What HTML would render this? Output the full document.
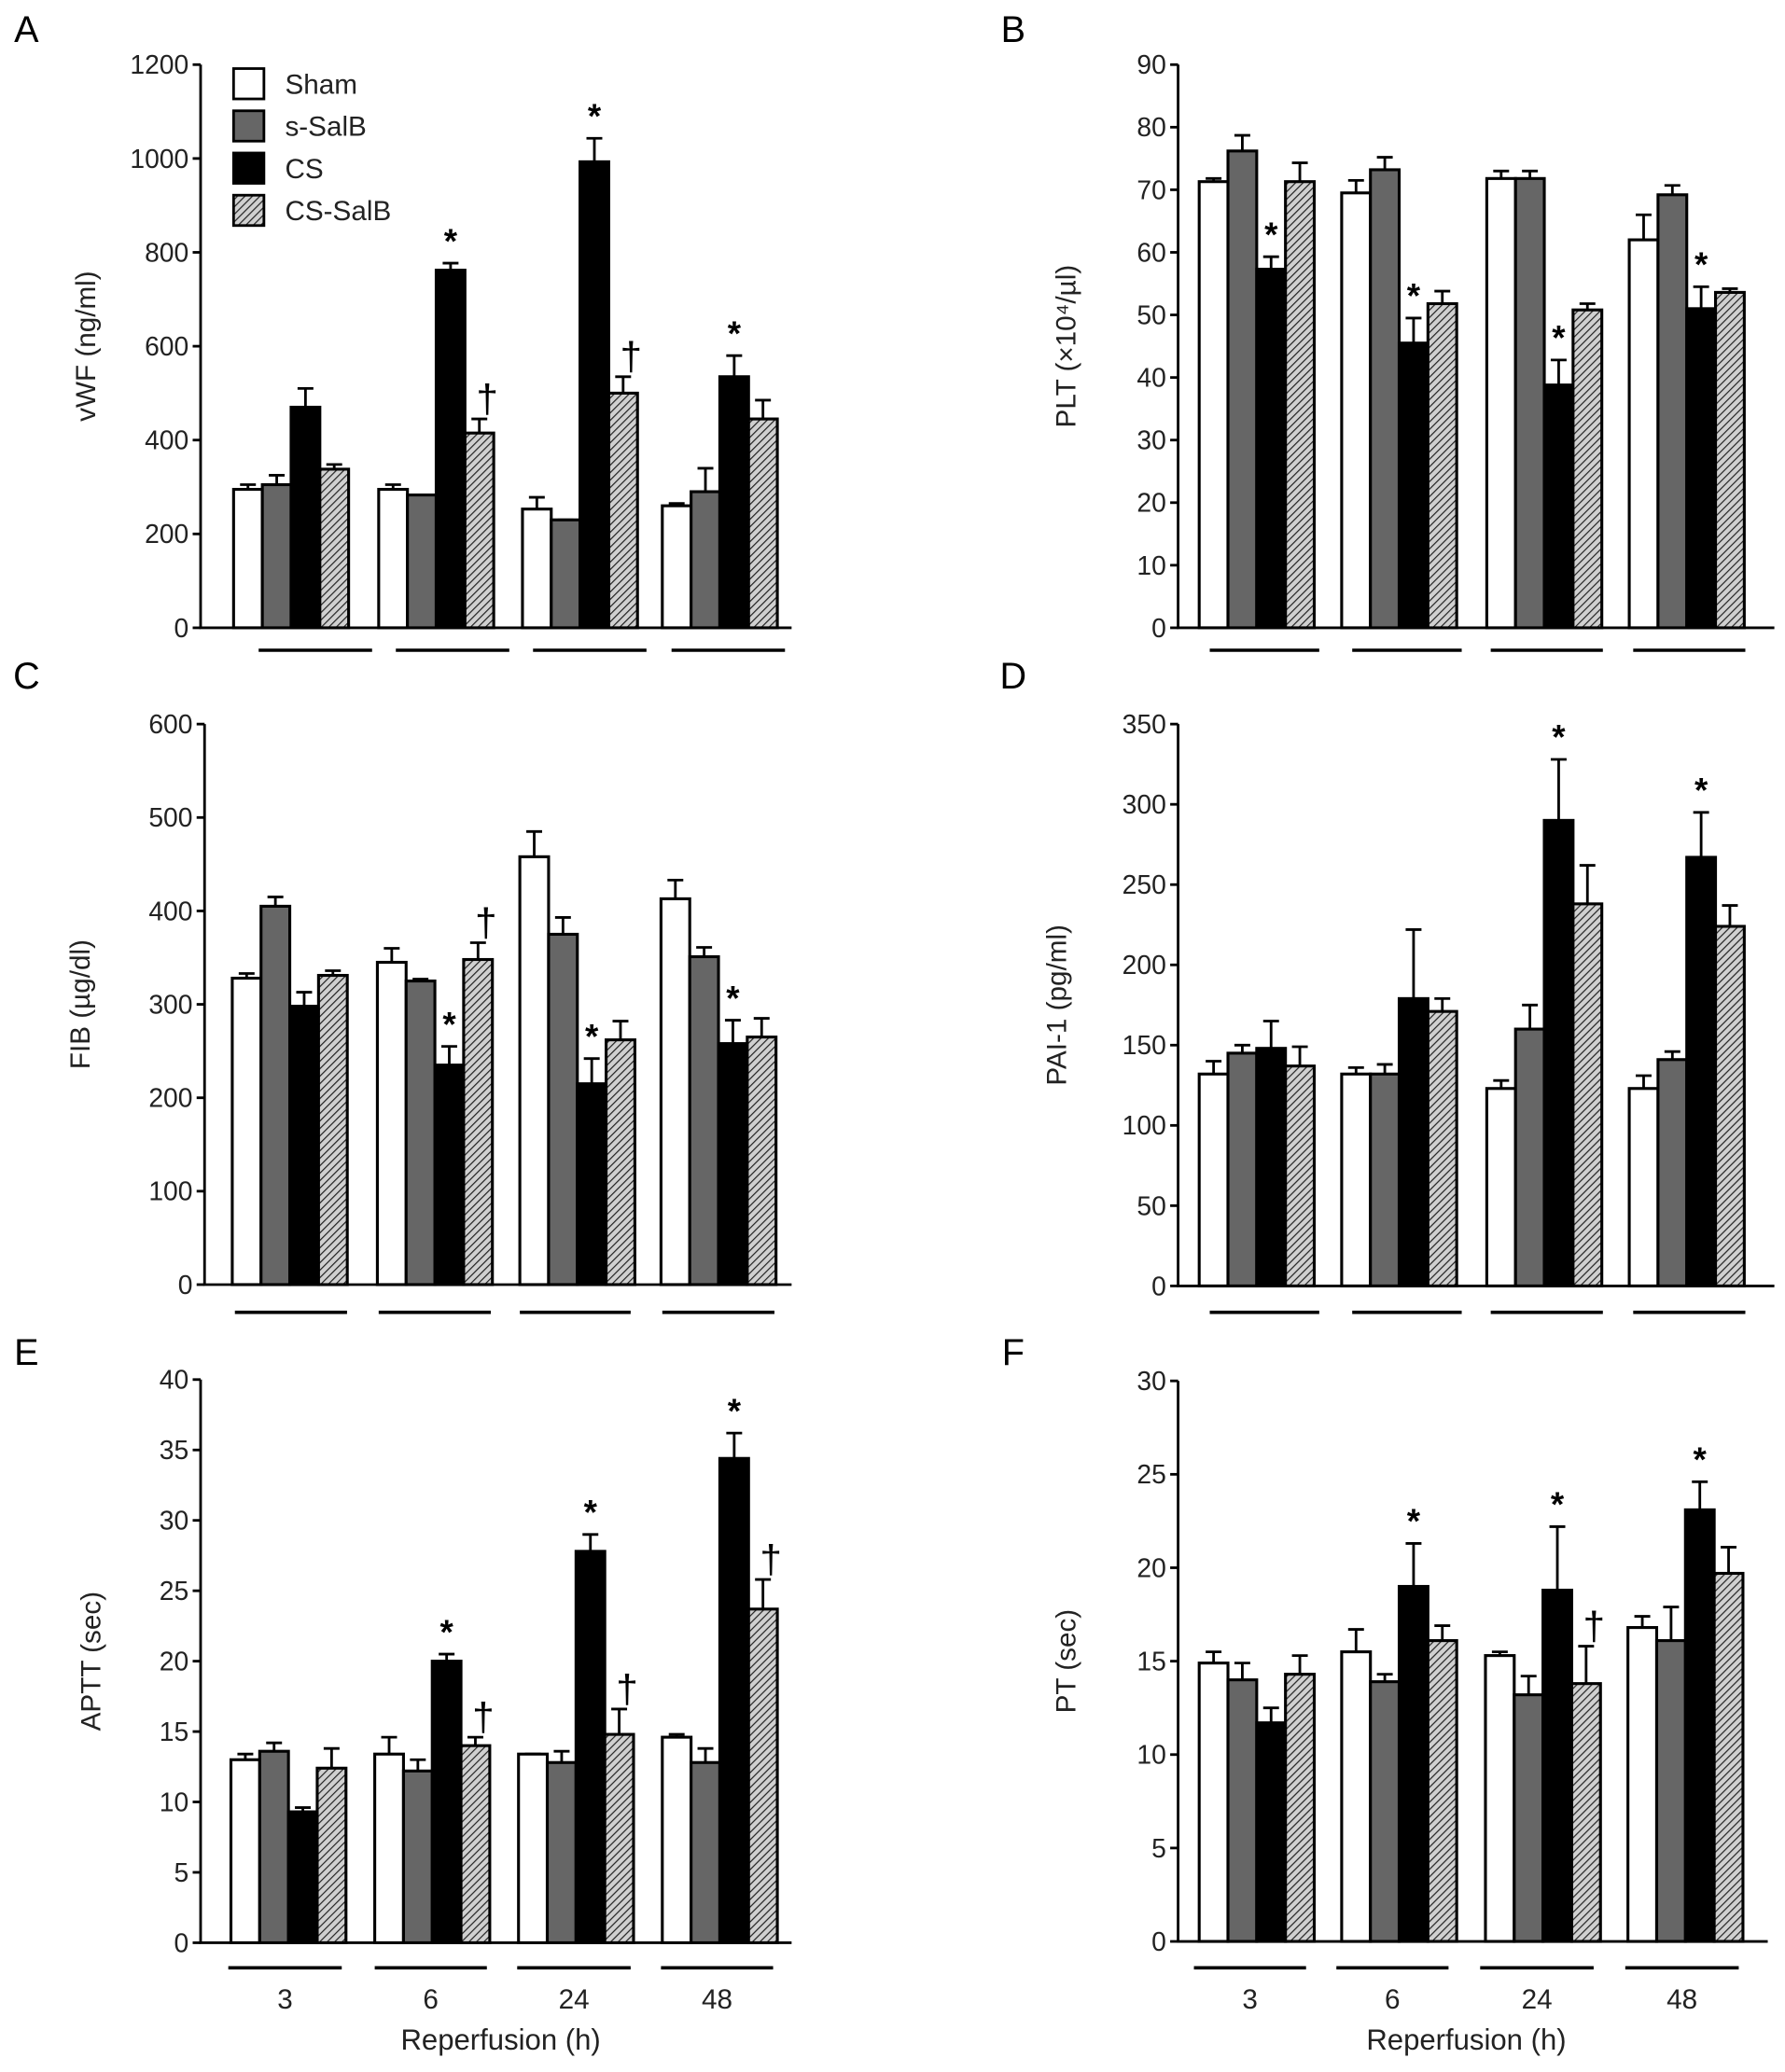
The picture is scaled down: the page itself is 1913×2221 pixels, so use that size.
<!DOCTYPE html>
<html><head><meta charset="utf-8"><style>
html,body{margin:0;padding:0;background:#fff;}
svg{display:block;font-family:"Liberation Sans",sans-serif;}
</style></head><body>
<svg id="fig" width="1913" height="2221" viewBox="0 0 1353 1571" xmlns="http://www.w3.org/2000/svg">
<defs>
<pattern id="hatch" patternUnits="userSpaceOnUse" width="4" height="4" patternTransform="rotate(45)">
<rect width="4" height="4" fill="#d0d0d0"/><line x1="0" y1="0" x2="0" y2="4" stroke="#222" stroke-width="1.7"/>
</pattern>
</defs>
<g id="root"></g>
</svg>
<script>
const groups = ["3","6","24","48"];
const series = ["Sham","s-SalB","CS","CS-SalB"];
const vwfMean = [[295,305,470,338],[295,283,762,415],[253,230,993,500],[260,290,535,445]];
const vwfErr  = [[10,20,40,10],[10,0,15,30],[25,0,50,35],[5,50,45,40]];
const pltMean = [[71.3,76.2,57.3,71.3],[69.5,73.2,45.5,51.8],[71.8,71.8,38.8,50.8],[62,69.2,51,53.6]];
const pltErr  = [[0.5,2.5,2,3],[2,2,4,2],[1.2,1.2,4,1],[4,1.5,3.5,0.6]];
const fibMean = [[328,405,298,331],[345,325,235,348],[458,375,215,262],[413,351,258,265]];
const fibErr  = [[5,10,15,5],[15,2,20,18],[27,18,27,20],[20,10,25,20]];
const paiMean = [[132,145,148,137],[132,132,179,171],[123,160,290,238],[123,141,267,224]];
const paiErr  = [[8,5,17,12],[4,6,43,8],[5,15,38,24],[8,5,28,13]];
const apttMean = [[13,13.6,9.3,12.4],[13.4,12.2,20,14],[13.4,12.8,27.8,14.8],[14.6,12.8,34.4,23.7]];
const apttErr  = [[0.4,0.6,0.3,1.4],[1.2,0.8,0.5,0.6],[0,0.8,1.2,1.8],[0.2,1,1.8,2.1]];
const ptMean = [[14.9,14,11.7,14.3],[15.5,13.9,19,16.1],[15.3,13.2,18.8,13.8],[16.8,16.1,23.1,19.7]];
const ptErr  = [[0.6,0.9,0.8,1],[1.2,0.4,2.3,0.8],[0.2,1,3.4,2],[0.6,1.8,1.5,1.4]];
const vwfMarks = [[1,2,"*"],[2,2,"*"],[3,2,"*"],[1,3,"†"],[2,3,"†"]];
const pltMarks = [[0,2,"*"],[1,2,"*"],[2,2,"*"],[3,2,"*"]];
const fibMarks = [[1,2,"*"],[2,2,"*"],[3,2,"*"],[1,3,"†"]];
const paiMarks = [[2,2,"*"],[3,2,"*"]];
const apttMarks = [[1,2,"*"],[2,2,"*"],[3,2,"*"],[1,3,"†"],[2,3,"†"],[3,3,"†"]];
const ptMarks = [[1,2,"*"],[2,2,"*"],[3,2,"*"],[2,3,"†"]];

const NS="http://www.w3.org/2000/svg";
const root=document.getElementById('root');
function mk(tag,attrs,parent){const e=document.createElementNS(NS,tag);for(const k in attrs)e.setAttribute(k,attrs[k]);(parent||root).appendChild(e);return e;}
const fills=["#fff","#666","#000","url(#hatch)"];

const panels=[
 {id:"a",letter:"A",lx:20,ly:22,ax:152,yTop:49,y0:476,xEnd:600,max:1200,step:200,title:"vWF (ng/ml)",tx:72,g:[177,287,396,502],ul:[[196,282],[300,386],[404,490],[509,595]],mean:vwfMean,err:vwfErr,marks:vwfMarks,ul_y:493,legend:true},
 {id:"b",letter:"B",lx:768,ly:22,ax:893,yTop:49,y0:476,xEnd:1345,max:90,step:10,title:"PLT (×10⁴/µl)",tx:815,g:[909,1017,1127,1235],ul:[[917,1000],[1025,1108],[1130,1215],[1238,1323]],mean:pltMean,err:pltErr,marks:pltMarks,ul_y:493},
 {id:"c",letter:"C",lx:20,ly:512,ax:155,yTop:549,y0:974,xEnd:600,max:600,step:100,title:"FIB (µg/dl)",tx:68,g:[176,286,394,501],ul:[[178,263],[287,372],[394,478],[502,587]],mean:fibMean,err:fibErr,marks:fibMarks,ul_y:995},
 {id:"d",letter:"D",lx:768,ly:512,ax:893,yTop:549,y0:975,xEnd:1345,max:350,step:50,title:"PAI-1 (pg/ml)",tx:808,g:[909,1017,1127,1235],ul:[[917,1000],[1025,1108],[1130,1215],[1238,1323]],mean:paiMean,err:paiErr,marks:paiMarks,ul_y:995},
 {id:"e",letter:"E",lx:20,ly:1025,ax:152,yTop:1046,y0:1473,xEnd:600,max:40,step:5,title:"APTT (sec)",tx:76,g:[175,284,393,502],ul:[[173,259],[284,369],[392,478],[501,586]],mean:apttMean,err:apttErr,marks:apttMarks,ul_y:1492,xl:true},
 {id:"f",letter:"F",lx:768,ly:1025,ax:893,yTop:1047,y0:1472,xEnd:1340,max:30,step:5,title:"PT (sec)",tx:815,g:[909,1017,1126,1234],ul:[[905,990],[1013,1098],[1122,1208],[1232,1318]],mean:ptMean,err:ptErr,marks:ptMarks,ul_y:1492,xl:true}
];
const bw=21.8;
panels.forEach(p=>{
 const G=mk('g',{});
 
 
 const y=v=>p.y0-(v/p.max)*(p.y0-p.yTop);
 const L=mk('text',{x:p.lx,y:p.ly+10,'font-size':28,'text-anchor':'middle'},G);L.textContent=p.letter;
 
 const ya=mk('line',{x1:p.ax,y1:p.yTop,x2:p.ax,y2:p.y0,stroke:'#000','stroke-width':2},G);
 
 for(let v=0;v<=p.max+1e-9;v+=p.step){
  const yy=y(v);
  mk('line',{x1:p.ax-6,y1:yy,x2:p.ax,y2:yy,stroke:'#000','stroke-width':2},G);
  const t=mk('text',{x:p.ax-9,y:yy+7,'font-size':20,'text-anchor':'end',fill:'#222'},G);t.textContent=String(v);
  
 }
 const yt=mk('text',{x:p.tx,y:(p.yTop+p.y0)/2,'font-size':21,'text-anchor':'middle',transform:`rotate(-90 ${p.tx} ${(p.yTop+p.y0)/2})`,fill:'#222'},G);
 yt.textContent=p.title;
 p.mean.forEach((row,gi)=>{
  row.forEach((v,si)=>{
   const x=p.g[gi]+si*bw, top=y(v), cx=x+bw/2;
   const eTop=y(v+p.err[gi][si]);
   const el=mk('line',{x1:cx,y1:top,x2:cx,y2:eTop,stroke:'#000','stroke-width':2},G);
   
   mk('line',{x1:cx-6,y1:eTop,x2:cx+6,y2:eTop,stroke:'#000','stroke-width':2},G);
   const r=mk('rect',{x:x,y:top,width:bw,height:p.y0-top,fill:fills[si],stroke:'#000','stroke-width':2.2},G);
   
   
  });
 });
 p.marks.forEach(m=>{
  const gi=m[0],si=m[1],v=p.mean[gi][si]+p.err[gi][si];
  const cx=p.g[gi]+si*bw+bw/2;
  const star=m[2]==="*";
  const t=mk('text',{x:star?cx:cx+6,y:y(v)-(star?8:5),'font-size':star?26:30,'text-anchor':'middle',fill:'#000','font-weight':star?'bold':'normal'},G);
  t.textContent=m[2];
  
 });
 const xa=mk('line',{x1:p.ax-1,y1:p.y0,x2:p.xEnd,y2:p.y0,stroke:'#000','stroke-width':2},G);
 
 p.ul.forEach((u,gi)=>{
  const l=mk('line',{x1:u[0],y1:p.ul_y,x2:u[1],y2:p.ul_y,stroke:'#000','stroke-width':2.5},G);
  
  if(p.xl){
   const t=mk('text',{x:(u[0]+u[1])/2,y:p.ul_y+31,'font-size':21,'text-anchor':'middle',fill:'#222'},G);
   t.textContent=groups[gi];
  }
 });
 if(p.xl){
  const t=mk('text',{x:(p.ul[0][0]+p.ul[3][1])/2,y:1554,'font-size':22,'text-anchor':'middle',fill:'#222'},G);
  t.textContent="Reperfusion (h)";
 }
 if(p.legend){
  series.forEach((s,si)=>{
   const yy=52+si*32;
   const r=mk('rect',{x:177,y:yy,width:23,height:23,fill:fills[si],stroke:'#000','stroke-width':2},G);
   
   const t=mk('text',{x:216,y:yy+19,'font-size':21,fill:'#222'},G);t.textContent=s;
   
  });
 }
});
</script>
</body></html>
